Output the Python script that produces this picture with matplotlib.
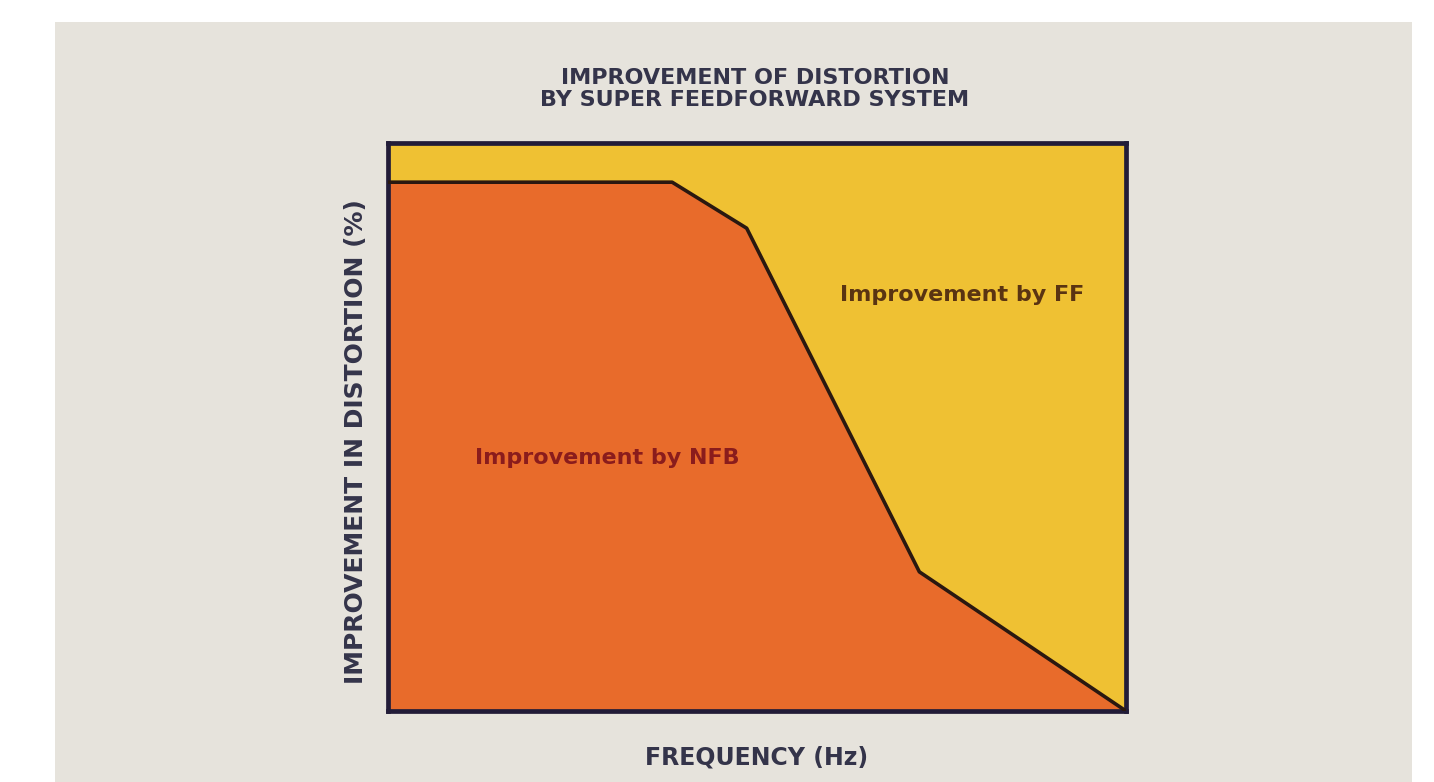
import matplotlib.pyplot as plt
from matplotlib.patches import Rectangle

# 曲线数据 (相对单位, 0-100)
freq = [0, 38.5, 48.6, 72.0, 100]
nfb = [93.1, 93.1, 85.0, 24.5, 0]
ff_top = 100

title = "IMPROVEMENT OF DISTORTION\nBY SUPER FEEDFORWARD SYSTEM"
xlabel = "FREQUENCY (Hz)"
ylabel = "IMPROVEMENT IN DISTORTION (%)"
label_nfb = "Improvement by NFB"
label_ff = "Improvement by FF"

plt.rcParams['font.family'] = ['DejaVu Sans']

fig = plt.figure(figsize=(14.34, 7.82), dpi=100)
fig.patch.set_facecolor('white')

# 背景纸
fig.patches.append(Rectangle((55 / 1434, 0), (1412 - 55) / 1434, 1 - 22 / 782,
                             transform=fig.transFigure, facecolor='#E6E3DC',
                             edgecolor='none', zorder=-5))

ax = fig.add_axes([388 / 1434, 71 / 782, 738 / 1434, 568 / 782])
ax.set_zorder(2)
ax.set_xlim(0, 100)
ax.set_ylim(0, 100)

ax.fill_between([0, 100], [ff_top, ff_top], 0, color='#EFC133', zorder=1)
ax.fill_between(freq, nfb, 0, color='#E86B2B', zorder=2)
ax.plot(freq, nfb, color='#2a1810', lw=2.6, zorder=3, solid_joinstyle='round')

for s in ax.spines.values():
    s.set_color('#221c38')
    s.set_linewidth(3.4)
ax.set_xticks([])
ax.set_yticks([])

ax.text(11.8, 44.5, label_nfb, color='#8a1c1c', fontsize=16, fontweight='bold',
        ha='left', va='center')
ax.text(61.3, 73.3, label_ff, color='#5a3412', fontsize=16, fontweight='bold',
        ha='left', va='center')

txt_color = '#34344a'
fig.text(755 / 1434, 1 - 89 / 782, title, ha='center', va='center',
         fontsize=16, color=txt_color, linespacing=1.15, fontweight='bold')
fig.text(757 / 1434, 1 - 758 / 782, xlabel, ha='center', va='center',
         fontsize=17, color=txt_color, fontweight='bold')
fig.text(356 / 1434, 1 - 442 / 782, ylabel, ha='center', va='center',
         rotation=90, fontsize=18, color=txt_color, fontweight='bold')

fig.savefig('out.png', dpi=100)
